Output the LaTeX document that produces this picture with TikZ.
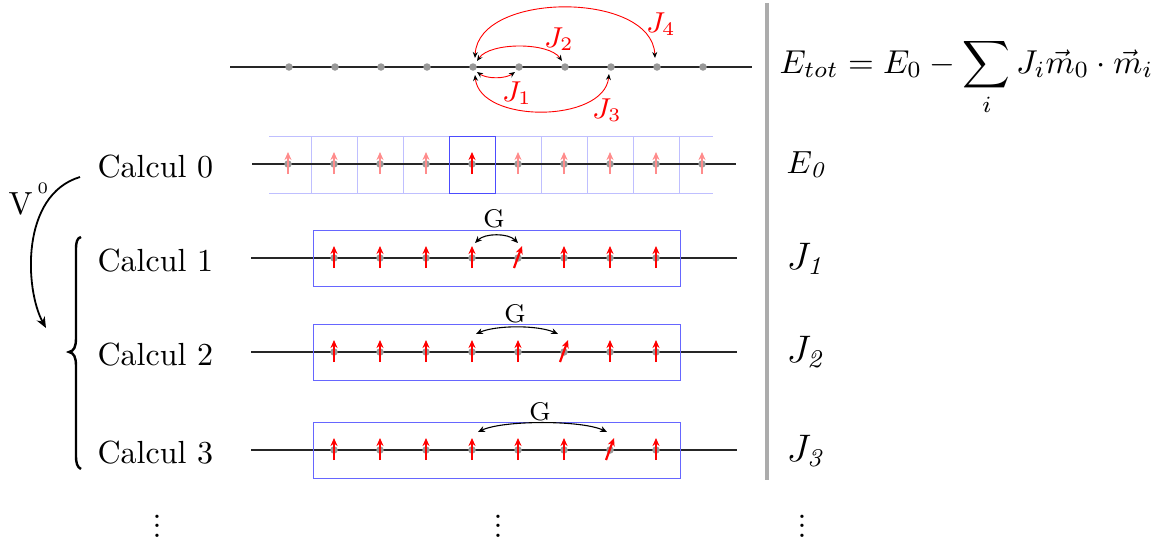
\documentclass[tikz,border=0pt]{standalone}
\usetikzlibrary{arrows.meta}
\begin{document}
\begin{tikzpicture}[x=1pt,y=-1pt,
  every node/.style={inner sep=0pt},
  txt/.style={scale=3.2, font=\normalsize},
  axis/.style={black!85, line width=1.3pt},
  site/.style={circle, fill=gray!80, minimum size=7.5pt},
  spin/.style={red, line width=2.2pt, -{Stealth[length=8pt,width=7pt]}},
  pspin/.style={red!45, line width=2.2pt, -{Stealth[length=8pt,width=7pt]}},
  jarc/.style={red, line width=0.9pt, {Stealth[black,length=6pt,width=5pt]}-{Stealth[black,length=6pt,width=5pt]}},
  garc/.style={black, line width=1.1pt, {Stealth[length=7pt,width=6pt]}-{Stealth[length=7pt,width=6pt]}},
  rowbox/.style={draw=blue!60, line width=1pt},
  gridline/.style={blue!25, line width=1pt},
  jlab/.style={txt, red, font=\small},
  calc/.style={txt, anchor=base west},
  rlab/.style={txt, anchor=base west, font=\large},
  vv/.style={black, line width=1.8pt, -{Stealth[length=11pt,width=9pt]}}
]
\newcommand{\myvdots}{\vbox{\baselineskip=3pt\lineskiplimit=-20pt\hbox{.}\hbox{.}\hbox{.}}}
\useasboundingbox (0,0) rectangle (1168,542);

% ---- top chain ----
\draw[axis] (230,67) -- (752,67);
\foreach \k in {1,...,10} \node[site] (t\k) at ({243+46*\k},67) {};
\draw[jarc] ([xshift=2pt,yshift=9pt]t5.center) .. controls +(3,-67) and +(-3,-67) .. ([xshift=-2pt,yshift=9pt]t9.center);
\draw[jarc] ([xshift=4pt,yshift=6pt]t5.center) .. controls +(13,-19) and +(-13,-19) .. ([xshift=-3pt,yshift=6pt]t7.center);
\draw[jarc] ([xshift=4pt,yshift=-5pt]t5.center) .. controls +(10,7) and +(-10,7) .. ([xshift=-4pt,yshift=-5pt]t6.center);
\draw[jarc] ([xshift=2pt,yshift=-8pt]t5.center) .. controls +(5,49) and +(-5,49) .. ([xshift=-2pt,yshift=-7pt]t8.center);
\node[jlab] (lj1) at (517,93) {$J_1$};
\node[jlab] (lj2) at (559,39) {$J_2$};
\node[jlab] (lj3) at (607,110) {$J_3$};
\node[jlab] (lj4) at (661,24) {$J_4$};

% ---- separator and equation ----
\draw[gray!65, line width=4pt] (767,3) -- (767,480);
\node[txt, scale=1.035, anchor=base west] (eq) at (779,73) {$\displaystyle E_{tot} = E_0 - \sum_i J_i\vec{m}_0\cdot\vec{m}_i$};

% ---- Calcul 0 ----
\draw[gridline] (269,136) -- (713,136);
\draw[gridline] (269,193) -- (713,193);
\foreach \k in {1,...,9} \draw[gridline] ({265+46*\k},136) -- ({265+46*\k},193);
\draw[axis] (252,164) -- (736,164);
\draw[blue!70, line width=1pt] (449,136) rectangle (495,193);
\foreach \k in {1,...,10} {
  \node[site] (a\k) at ({242+46*\k},164) {};
}
\foreach \k in {1,2,3,4,6,7,8,9,10}
  \draw[pspin] ([yshift=-10pt]a\k.center) -- ([yshift=12pt]a\k.center);
\draw[spin] ([yshift=-10pt]a5.center) -- ([yshift=12pt]a5.center);

% ---- Calcul 1..3 ----
\foreach \r/\y/\t in {1/258/5, 2/352/6, 3/450/7} {
  \draw[axis] (251,\y) -- (737,\y);
  \draw[rowbox] (313,\y-28) rectangle (680,\y+28);
  \foreach \k in {1,...,8} \node[site] (s\r\k) at ({288+46*\k},\y) {};
  \foreach \k in {1,...,8} {
    \ifnum\k=\t
      \draw[spin] ([xshift=-4pt,yshift=-10pt]s\r\k.center) -- ([xshift=4pt,yshift=12pt]s\r\k.center);
    \else
      \draw[spin] ([yshift=-10pt]s\r\k.center) -- ([yshift=12pt]s\r\k.center);
    \fi
  }
}
\draw[garc] ([xshift=3pt,yshift=15pt]s14.center) .. controls +(10,-10) and +(-10,-10) .. ([yshift=15pt]s15.center);
\draw[garc] ([xshift=4pt,yshift=18pt]s24.center) .. controls +(20,-9) and +(-20,-9) .. ([xshift=-6pt,yshift=18pt]s26.center);
\draw[garc] ([xshift=6pt,yshift=18pt]s34.center) .. controls +(25,-12) and +(-25,-12) .. ([xshift=-3pt,yshift=18pt]s37.center);
\node[txt, font=\footnotesize, anchor=base] (g1) at (494,227) {G};
\node[txt, font=\footnotesize, anchor=base] (g2) at (515,322) {G};
\node[txt, font=\footnotesize, anchor=base] (g3) at (540,420) {G};

% ---- left labels ----
\node[calc] (c0) at (97,177) {Calcul 0};
\node[calc] (c1) at (97,271) {Calcul 1};
\node[calc] (c2) at (97,365) {Calcul 2};
\node[calc] (c3) at (97,463) {Calcul 3};
\draw[black, line width=2.4pt] (81,237) .. controls (77,238) and (76,242) .. (76,250) -- (76,338) .. controls (76,347) and (74,351) .. (69,352) .. controls (74,353) and (76,357) .. (76,366) -- (76,455) .. controls (76,463) and (77,467) .. (81,469);
\coordinate (vs) at (80,177);
\coordinate (ve) at (46,328);
\draw[vv] (vs) .. controls (20,195) and (25,290) .. (ve);
\node[txt, anchor=base west] (v0) at (8,214) {V\hspace{1.5pt}\raisebox{6.5pt}{\tiny 0}};

% ---- right labels ----
\node[rlab, font=\normalsize] (e0) at (786,173) {$E_{\mathit{0}}$};
\node[rlab] (rj1) at (786,269) {$J_{\mathit{1}}$};
\node[rlab] (rj2) at (786,362) {$J_{\mathit{2}}$};
\node[rlab] (rj3) at (786,461) {$J_{\mathit{3}}$};

% ---- dots ----
\node[txt] (d1) at (157,526) {\myvdots};
\node[txt] (d2) at (498,526) {\myvdots};
\node[txt] (d3) at (802,526) {\myvdots};
\end{tikzpicture}
\end{document}
